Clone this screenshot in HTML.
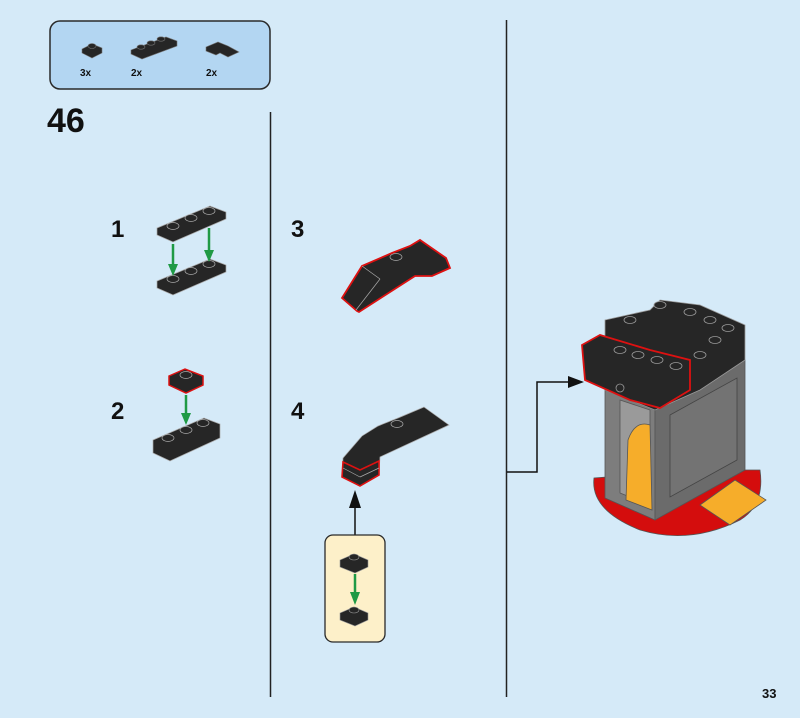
<!DOCTYPE html>
<html><head><meta charset="utf-8"><style>
html,body{margin:0;padding:0;background:#d5eaf8;}
svg{display:block;}
text{font-family:"Liberation Sans",sans-serif;font-weight:bold;fill:#111;}
</style></head><body>
<svg width="800" height="718" viewBox="0 0 800 718" xmlns="http://www.w3.org/2000/svg">
<rect width="800" height="718" fill="#d5eaf8"/>
<!-- parts box -->
<rect x="50" y="21" width="220" height="68" rx="10" fill="#b3d6f2" stroke="#2a2a2a" stroke-width="1.5"/>
<g stroke="#777" stroke-width="0.6" fill="#262626">
 <polygon points="82,49 92,44 102,48 102,53 92,58 82,53"/>
 <ellipse cx="92" cy="46" rx="4" ry="2.5"/>
 <polygon points="131,50 166,37 177,41 177,46 142,59 131,54"/>
 <ellipse cx="141" cy="47" rx="4" ry="2.2"/><ellipse cx="151" cy="43" rx="4" ry="2.2"/><ellipse cx="161" cy="39" rx="4" ry="2.2"/>
 <polygon points="206,47 218,42 228,46 239,52 228,57 220,53 216,55 206,51"/>
</g>
<text x="80" y="76" font-size="10">3x</text>
<text x="131" y="76" font-size="10">2x</text>
<text x="206" y="76" font-size="10">2x</text>
<!-- dividers -->
<line x1="270.5" y1="112" x2="270.5" y2="697" stroke="#222" stroke-width="1.5"/>
<line x1="506.5" y1="20" x2="506.5" y2="697" stroke="#222" stroke-width="1.5"/>
<!-- numbers -->
<text x="47" y="132" font-size="34">46</text>
<text x="111" y="237" font-size="24">1</text>
<text x="111" y="419" font-size="24">2</text>
<text x="291" y="237" font-size="24">3</text>
<text x="291" y="419" font-size="24">4</text>
<text x="762" y="698" font-size="13">33</text>
<!-- step 1 -->
<g stroke="#aaa" stroke-width="0.7" fill="#262626">
 <polygon points="157,228 210,206 226,212 226,219 173,242 157,235"/>
 <ellipse cx="173" cy="226" rx="6" ry="3.5"/><ellipse cx="191" cy="218" rx="6" ry="3.5"/><ellipse cx="209" cy="211" rx="6" ry="3.5"/>
 <polygon points="157,281 210,259 226,265 226,272 173,295 157,288"/>
 <ellipse cx="173" cy="279" rx="6" ry="3.5"/><ellipse cx="191" cy="271" rx="6" ry="3.5"/><ellipse cx="209" cy="264" rx="6" ry="3.5"/>
</g>
<g stroke="#1f9a45" stroke-width="2.5" fill="#1f9a45">
 <line x1="173" y1="244" x2="173" y2="268"/><polygon points="168,264 178,264 173,276" stroke="none"/>
 <line x1="209" y1="228" x2="209" y2="254"/><polygon points="204,250 214,250 209,262" stroke="none"/>
</g>
<!-- step 2 -->
<g stroke="#aaa" stroke-width="0.7" fill="#262626">
 <polygon points="169,376 185,369 203,376 203,385 186,393 169,385" stroke="#d11" stroke-width="1.5"/>
 <ellipse cx="186" cy="375" rx="6" ry="3.5"/>
 <polygon points="153,440 204,418 220,424 220,438 170,461 153,453"/>
 <ellipse cx="168" cy="438" rx="6" ry="3.5"/><ellipse cx="186" cy="430" rx="6" ry="3.5"/><ellipse cx="203" cy="423" rx="6" ry="3.5"/>
</g>
<g stroke="#1f9a45" stroke-width="2.5" fill="#1f9a45">
 <line x1="186" y1="395" x2="186" y2="417"/><polygon points="181,413 191,413 186,425" stroke="none"/>
</g>
<!-- step 3 -->
<g stroke="#aaa" stroke-width="0.7" fill="#262626">
 <polygon points="342,298 362,266 392,253 410,246 420,240 446,258 450,268 432,276 415,276 359,312 357,311" stroke="#d11" stroke-width="1.8"/>
 <line x1="362" y1="266" x2="380" y2="279"/><line x1="380" y1="279" x2="356" y2="310"/>
 <ellipse cx="396" cy="257" rx="6" ry="3.5"/>
</g>
<!-- step 4 -->
<g stroke="#aaa" stroke-width="0.7" fill="#262626">
 <polygon points="362,436 378,426 398,418 424,407 449,425 380,457 379,475 360,486 342,477 343,458"/>
 <polygon points="343,462 360,470 379,461 379,475 360,486 342,477" stroke="#d11" stroke-width="1.6"/>
 <line x1="343" y1="468" x2="360" y2="477"/><line x1="360" y1="477" x2="379" y2="468"/>
 <ellipse cx="397" cy="424" rx="6" ry="3.5"/>
</g>
<line x1="355" y1="535" x2="355" y2="505" stroke="#111" stroke-width="1.5"/>
<polygon points="349,508 361,508 355,490" fill="#111"/>
<rect x="325" y="535" width="60" height="107" rx="8" fill="#fdf0c9" stroke="#2a2a2a" stroke-width="1.3"/>
<g stroke="#999" stroke-width="0.6" fill="#262626">
 <polygon points="340,560 354,554 368,560 368,567 355,573 340,567"/>
 <ellipse cx="354" cy="557" rx="5" ry="3"/>
 <polygon points="340,613 354,607 368,613 368,620 355,626 340,620"/>
 <ellipse cx="354" cy="610" rx="5" ry="3"/>
</g>
<g stroke="#1f9a45" stroke-width="2.5" fill="#1f9a45">
 <line x1="355" y1="574" x2="355" y2="596"/><polygon points="350,592 360,592 355,605" stroke="none"/>
</g>
<!-- connector -->
<polyline points="507,472 537,472 537,382 570,382" fill="none" stroke="#111" stroke-width="1.5"/>
<polygon points="568,376 584,382 568,388" fill="#111"/>
<!-- final model -->
<g stroke="#555" stroke-width="0.8">
 <path d="M594,478 Q590,510 640,530 Q690,545 740,520 Q765,505 760,470 L700,470 Z" fill="#d40d0d"/>
 <polygon points="605,390 655,410 655,520 605,498" fill="#7d7d7d"/>
 <polygon points="655,410 745,360 745,470 655,520" fill="#6b6b6b"/>
 <polygon points="670,415 737,378 737,460 670,497" fill="#737373" stroke="#444"/>
 <polygon points="620,400 650,410 650,505 620,493" fill="#9a9a9a"/>
 <path d="M626,500 L628,440 Q635,420 650,425 L652,510 Z" fill="#f6ad2a"/>
 <polygon points="700,505 735,480 766,500 730,525" fill="#f6ad2a"/>
 <polygon points="605,320 650,310 660,300 700,305 745,325 745,360 700,390 655,410 605,390" fill="#262626" stroke="#999"/>
 <polygon points="582,345 600,335 650,350 690,360 690,390 660,408 630,400 585,380" fill="#262626" stroke="#d11" stroke-width="1.8"/>
 <ellipse cx="620" cy="350" rx="6" ry="3.5" fill="#262626" stroke="#999"/><ellipse cx="638" cy="355" rx="6" ry="3.5" fill="#262626" stroke="#999"/>
 <ellipse cx="657" cy="360" rx="6" ry="3.5" fill="#262626" stroke="#999"/><ellipse cx="676" cy="366" rx="6" ry="3.5" fill="#262626" stroke="#999"/>
 <ellipse cx="630" cy="320" rx="6" ry="3.5" fill="#262626" stroke="#999"/><ellipse cx="660" cy="305" rx="6" ry="3.5" fill="#262626" stroke="#999"/>
 <ellipse cx="690" cy="312" rx="6" ry="3.5" fill="#262626" stroke="#999"/><ellipse cx="710" cy="320" rx="6" ry="3.5" fill="#262626" stroke="#999"/>
 <ellipse cx="728" cy="328" rx="6" ry="3.5" fill="#262626" stroke="#999"/><ellipse cx="715" cy="340" rx="6" ry="3.5" fill="#262626" stroke="#999"/>
 <ellipse cx="700" cy="355" rx="6" ry="3.5" fill="#262626" stroke="#999"/>
 <circle cx="620" cy="388" r="4" fill="#262626" stroke="#999"/>
</g>
</svg>
</body></html>
